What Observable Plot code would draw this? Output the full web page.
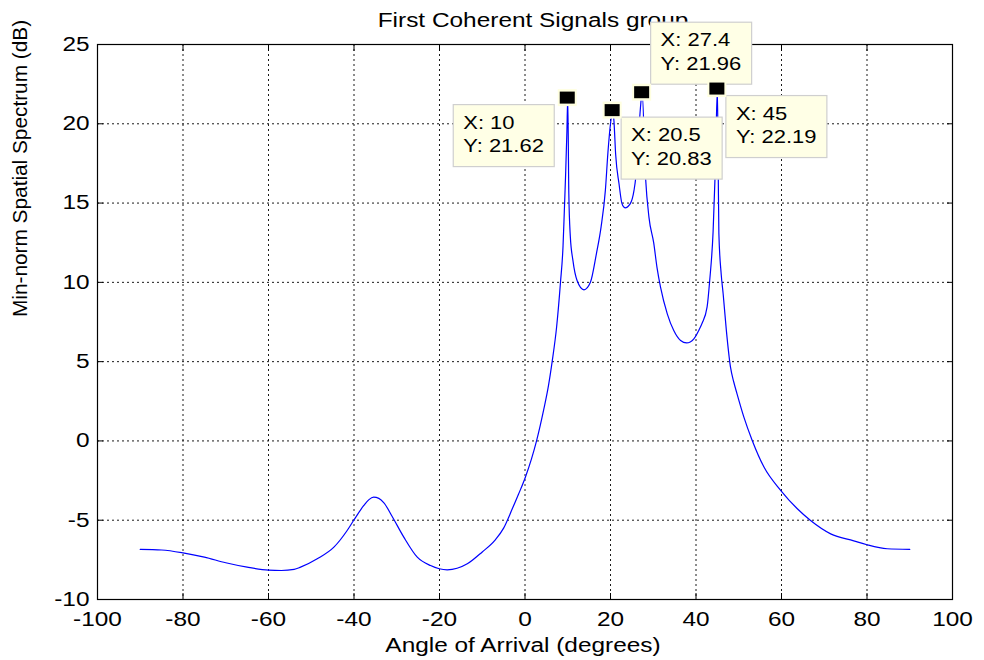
<!DOCTYPE html>
<html><head><meta charset="utf-8">
<script src="https://cdn.jsdelivr.net/npm/d3@7"></script>
<script src="https://cdn.jsdelivr.net/npm/@observablehq/plot@0.6"></script>
<style>body{margin:0;background:#fff} #chart{width:984px;height:660px}</style>
</head><body><div id="chart"></div>
<script>
// ---- data ----
const angles = [-90,-85,-80,-75,-70,-65,-60,-57,-54,-52.5,-48.6,-44.7,-41.6,-40.1,-37.7,-36.5,-35.4,-34.2,-33,-31.1,-28.35,-25.2,-22.1,-18.2,-13.5,-10,-7,-5,-3,-1.5,0,1.5,2.7,4.4,5.5,6.35,7.4,8.3,8.9,9.2,9.5,9.8,10,10.25,10.6,11.2,12.2,13.8,15.3,16.7,17.8,18.8,19.4,20.0,20.5,20.8,21.2,22.0,22.7,23.4,24.6,25.5,25.9,26.4,27.0,27.4,28.2,29.0,30.1,30.9,31.7,33.3,34.8,36.4,37.8,39.5,40.7,41.4,42.6,43.2,44.0,44.5,45,45.2,45.35,45.9,46.35,47.1,48.07,48.85,49.6,51.2,53.15,55.9,59.85,63.7,66.8,71.5,76.9,80,84.7,90];
const spectrum = [-6.84,-6.88,-7.06,-7.33,-7.68,-7.96,-8.15,-8.17,-8.1,-7.96,-7.43,-6.7,-5.65,-5.02,-4.07,-3.7,-3.55,-3.62,-3.9,-4.75,-6.07,-7.33,-7.86,-8.13,-7.75,-7.0,-6.25,-5.5,-4.3,-3.35,-2.35,-1.15,0,2.0,3.5,5.0,7.2,10.0,12.3,14.5,16.8,19.5,21.62,15.6,12.9,11.4,10.1,9.53,10.0,11.8,13.5,15.8,18.2,20.0,20.83,20.2,18.1,16.2,14.95,14.7,14.95,15.8,16.6,18.5,21.0,21.96,16.6,14.1,12.5,10.9,9.7,8.0,6.96,6.33,6.18,6.44,7.0,7.4,8.45,10.1,13.2,17.0,22.19,17.0,13.1,10.5,9.28,6.97,4.65,3.7,2.97,1.5,0.03,-1.65,-3.13,-4.28,-5.02,-5.86,-6.3,-6.55,-6.8,-6.84];
const xTicks = [-100,-80,-60,-40,-20,0,20,40,60,80,100];
const yTicks = [-10,-5,0,5,10,15,20,25];
const tipX = [10, 20.5, 27.4, 45];
const tipY = [21.62, 20.83, 21.96, 22.19];
const tipSide = ["below-left", "below-right", "above-right", "below-right"];
const titleText = "First Coherent Signals group";
const xLabel = "Angle of Arrival (degrees)";
const yLabel = "Min-norm Spatial Spectrum (dB)";

const FONT = "'Liberation Sans', Arial, Helvetica, sans-serif";
const STRETCH = 1.22;
const data = angles.map((a, i) => ({a, v: spectrum[i]}));
const gridStyle = {stroke: "#000", strokeOpacity: 1, strokeWidth: 0.9, strokeDasharray: "2,3"};

const plot = Plot.plot({
  width: 984, height: 660,
  marginLeft: 97, marginRight: 32, marginTop: 44, marginBottom: 61,
  style: {fontFamily: FONT, fontSize: "20px", background: "#fff", color: "#000", overflow: "visible"},
  x: {domain: [-100, 100]},
  y: {domain: [-10, 25]},
  marks: [
    Plot.gridX(xTicks, gridStyle),
    Plot.gridY(yTicks, gridStyle),
    Plot.axisX(xTicks, {anchor: "bottom", tickSize: 0, tickPadding: 12, label: null, tickFormat: d => String(d), fontSize: 20}),
    Plot.axisY(yTicks, {anchor: "left", tickSize: 0, tickPadding: 8, label: null, tickFormat: d => String(d), fontSize: 20}),
    Plot.axisX(xTicks, {anchor: "bottom", tickSize: -6, label: null, tickFormat: () => ""}),
    Plot.axisX(xTicks, {anchor: "top", tickSize: -6, label: null, tickFormat: () => ""}),
    Plot.axisY(yTicks, {anchor: "left", tickSize: -6, label: null, tickFormat: () => ""}),
    Plot.axisY(yTicks, {anchor: "right", tickSize: -6, label: null, tickFormat: () => ""}),
    Plot.line(data, {x: "a", y: "v", stroke: "#0000ff", strokeWidth: 1.2, curve: "monotone-x"}),
    Plot.frame({stroke: "#000", strokeWidth: 1.2}),
    Plot.text([titleText], {text: d => d, frameAnchor: "top", dx: 8, dy: -24, lineAnchor: "middle", fontSize: 20}),
    Plot.text([xLabel], {text: d => d, frameAnchor: "bottom", dx: -2, dy: 46, lineAnchor: "middle", fontSize: 20}),
    Plot.text([yLabel], {text: d => d, frameAnchor: "left", dx: -77, dy: -5, rotate: -90, lineAnchor: "middle", fontSize: 20})
  ]
});
document.getElementById("chart").appendChild(plot);

const svgNode = plot.tagName.toLowerCase() === "svg" ? plot : plot.querySelector("svg");
const svg = d3.select(svgNode);

// data tips, positioned through the plot's own scales
const sx = plot.scale("x"), sy = plot.scale("y");
const gBoxes = svg.append("g"), gMarks = svg.append("g");
tipX.forEach((tx, i) => {
  const px = sx.apply(tx), py = sy.apply(tipY[i]);
  let left, top;
  if (tipSide[i] === "below-left") { left = px - 114; top = py + 7; }
  else if (tipSide[i] === "below-right") { left = px + 9; top = py + 7; }
  else { left = px + 9; top = py - 70; }
  gBoxes.append("rect").attr("x", left).attr("y", top).attr("width", 101).attr("height", 62)
    .attr("fill", "#ffffe6").attr("stroke", "#cfcfcf").attr("stroke-width", 1.2);
  gBoxes.append("text").attr("x", left + 10).attr("y", top + 24).attr("text-anchor", "start")
    .attr("font-family", FONT).attr("font-size", 18).attr("fill", "#000").text(`X: ${tx}`);
  gBoxes.append("text").attr("x", left + 10).attr("y", top + 47.5).attr("text-anchor", "start")
    .attr("font-family", FONT).attr("font-size", 18).attr("fill", "#000").text(`Y: ${tipY[i].toFixed(2)}`);
  gMarks.append("rect").attr("x", px - 9.5).attr("y", py - 8.5).attr("width", 19).attr("height", 17).attr("fill", "#ffffe0");
  gMarks.append("rect").attr("x", px - 7.5).attr("y", py - 6).attr("width", 15).attr("height", 12).attr("fill", "#000");
});

// horizontal stretch of text to mimic the reference rendering
svg.selectAll("text").each(function () {
  const t = this.textContent;
  if (!t) return;
  const len = this.getComputedTextLength();
  if (!len) return;
  const f = t === yLabel ? 1.04 : STRETCH;
  this.setAttribute("textLength", (len * f).toFixed(1));
  this.setAttribute("lengthAdjust", "spacingAndGlyphs");
});
</script></body></html>
